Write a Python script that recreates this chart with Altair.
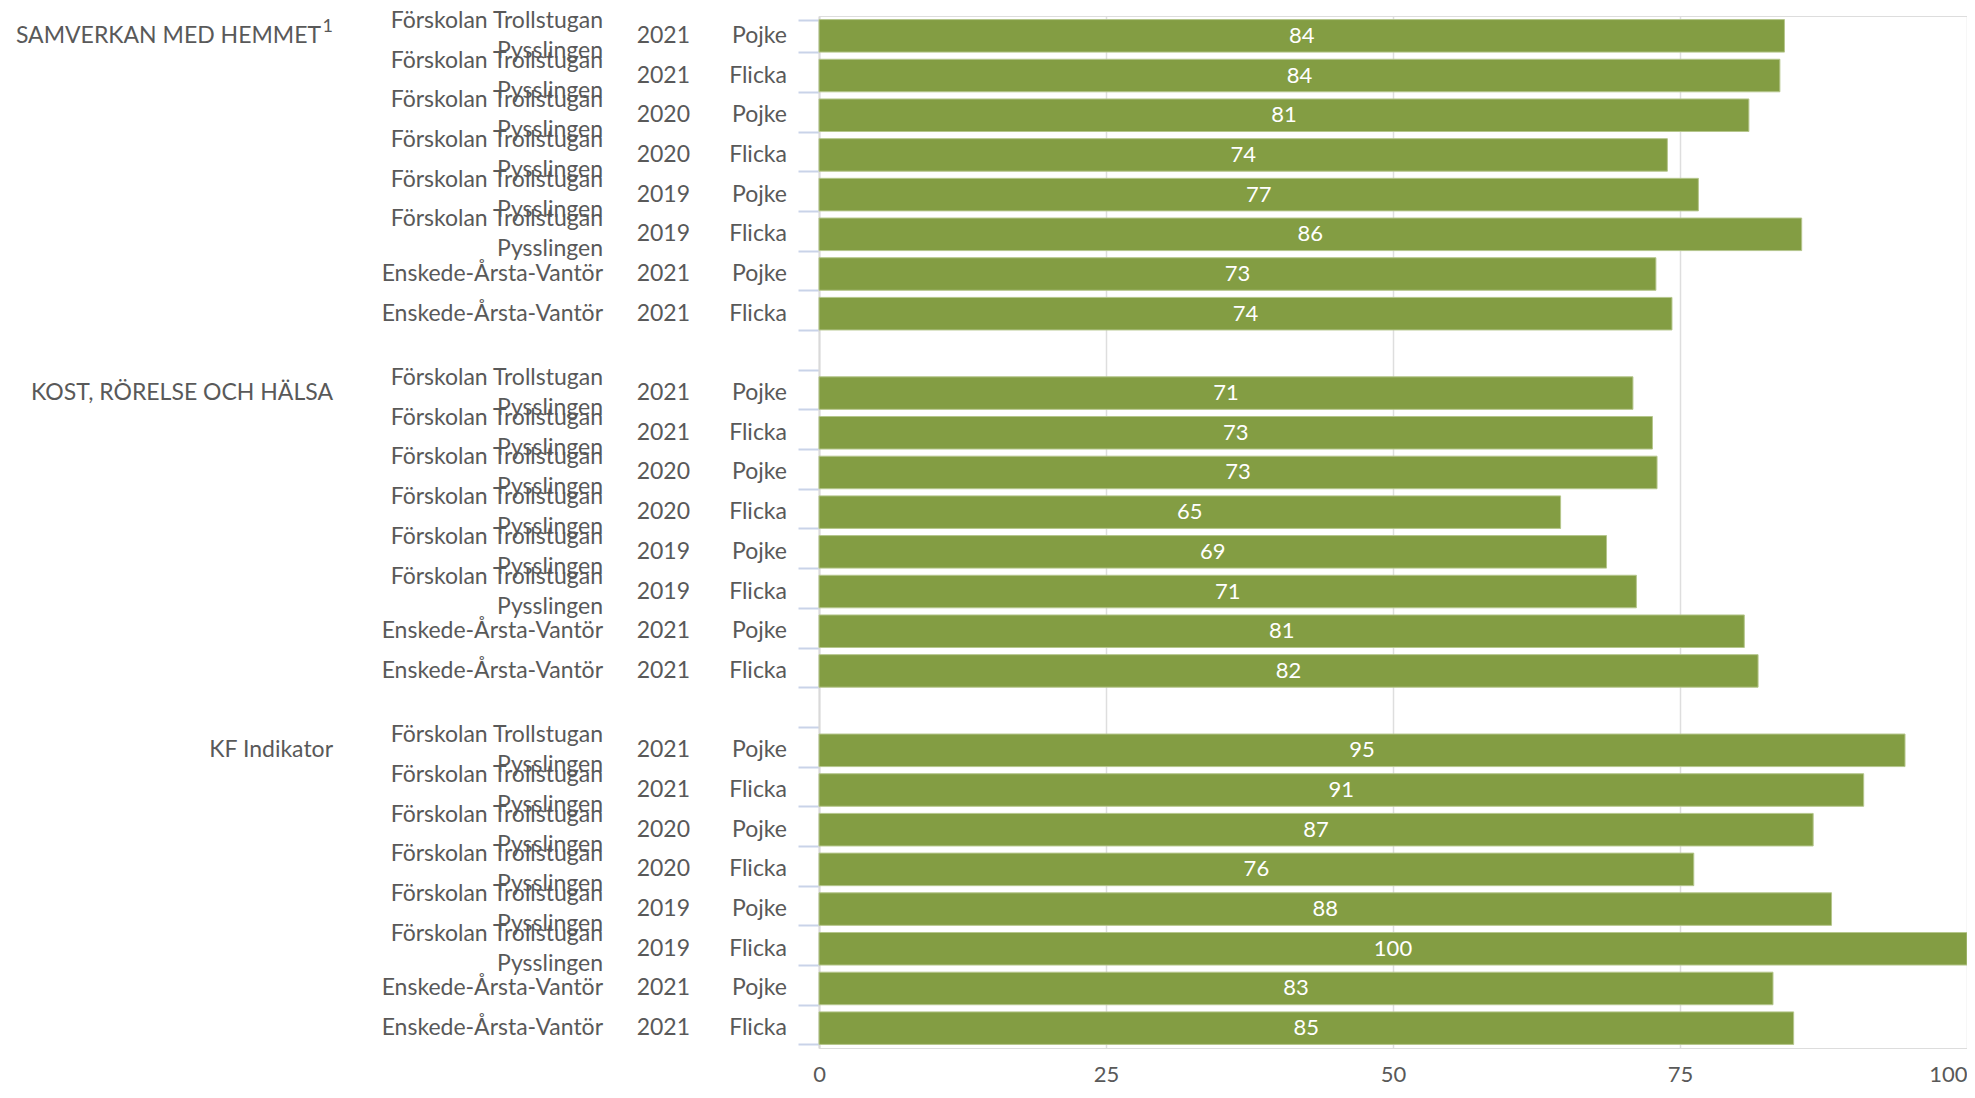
import altair as alt
import pandas as pd

# ---- data ----
groups = ["SAMVERKAN MED HEMMET", "KOST, RÖRELSE OCH HÄLSA", "KF Indikator"]
group_sup = ["1", "", ""]
sites = ["Förskolan Trollstugan\nPysslingen"] * 6 + ["Enskede-Årsta-Vantör"] * 2
years = ["2021", "2021", "2020", "2020", "2019", "2019", "2021", "2021"]
genders = ["Pojke", "Flicka", "Pojke", "Flicka", "Pojke", "Flicka", "Pojke", "Flicka"]
values_samverkan = [84.1, 83.7, 81.0, 73.9, 76.6, 85.6, 72.9, 74.3]
values_kost = [70.9, 72.6, 73.0, 64.6, 68.6, 71.2, 80.6, 81.8]
values_kf = [94.6, 91.0, 86.6, 76.2, 88.2, 100.0, 83.1, 84.9]
x_ticks = [0, 25, 50, 75, 100]

all_values = [values_samverkan, values_kost, values_kf]

# build table: one row slot per bar, plus an empty slot between groups
records = []
for g, (gname, vals) in enumerate(zip(groups, all_values)):
    for i in range(len(vals)):
        records.append({
            "row": g * 9 + i,
            "first": i == 0,
            "group": gname,
            "sup": group_sup[g],
            "site": sites[i],
            "multi": "\n" in sites[i],
            "year": years[i],
            "gender": genders[i],
            "value": vals[i],
        })
df = pd.DataFrame(records)
n_rows = len(groups) * 9 - 1
row_domain = list(range(n_rows))

TEXT = "#595959"
BAR = "#839D43"
FONT = "Lato"
FS = 23

y_scale = alt.Scale(domain=row_domain, paddingInner=0.18, paddingOuter=0.09)
x_scale = alt.Scale(domain=[0, 100], nice=False)

y_axis = alt.Axis(labels=False, title=None, tickBand="extent", ticks=True,
                  tickColor="#c9d3e8", tickSize=21, tickWidth=2,
                  domainColor="#d9d9d9", domainWidth=2, grid=False)
x_axis = alt.Axis(values=x_ticks, title=None, grid=True, gridColor="#dedede",
                  gridWidth=1.5, domain=False, ticks=False,
                  labelFontSize=22, labelColor=TEXT, labelFont=FONT,
                  labelPadding=16,
                  labelAlign={"condition": {"test": "datum.value == 100", "value": "right"},
                              "value": "center"})

base = alt.Chart(df)

y_enc = alt.Y("row:O", scale=y_scale, axis=y_axis)

bars = base.mark_bar(color=BAR, stroke="#b5c68c", strokeWidth=1).encode(
    x=alt.X("value:Q", scale=x_scale, axis=x_axis),
    y=y_enc,
)

bar_labels = base.transform_calculate(mid="datum.value / 2").mark_text(
    color="white", font=FONT, fontSize=22, baseline="middle", align="center"
).encode(
    x=alt.X("mid:Q", scale=x_scale, axis=x_axis),
    y=y_enc,
    text=alt.Text("value:Q", format=".0f"),
)

def col_text(src, field, xpix, **kw):
    return src.mark_text(color=TEXT, font=FONT, fontSize=FS, align="right",
                         baseline="middle", **kw).encode(
        x=alt.value(xpix), y=y_enc, text=f"{field}:N")

gender_labels = col_text(base, "gender", -32)
year_labels = col_text(base, "year", -129)
site_multi = col_text(base.transform_filter("datum.multi"), "site", -216,
                      lineBreak="\n", lineHeight=30, dy=-15)
site_single = col_text(base.transform_filter("!datum.multi"), "site", -216)

group_labels = base.transform_filter("datum.first").transform_calculate(
    xoff="datum.sup == '' ? -486 : -498"
).mark_text(color=TEXT, font=FONT, fontSize=FS, align="right", baseline="middle").encode(
    x=alt.X("xoff:Q", scale=None),
    y=y_enc,
    text="group:N",
)

sup_labels = base.transform_filter("datum.first && datum.sup != ''").mark_text(
    color=TEXT, font=FONT, fontSize=18, align="right", baseline="middle", dy=-9
).encode(
    x=alt.value(-486),
    y=y_enc,
    text="sup:N",
)

chart = alt.layer(
    bars, bar_labels, gender_labels, year_labels, site_multi, site_single,
    group_labels, sup_labels
).properties(
    width=1148,
    height=1032,
    autosize=alt.AutoSizeParams(type="none"),
    padding={"left": 811, "top": 8, "right": 0, "bottom": 38},
).configure_view(stroke=None).configure(font=FONT)

chart.save("out.html", embed_options={"renderer": "svg", "actions": False})
